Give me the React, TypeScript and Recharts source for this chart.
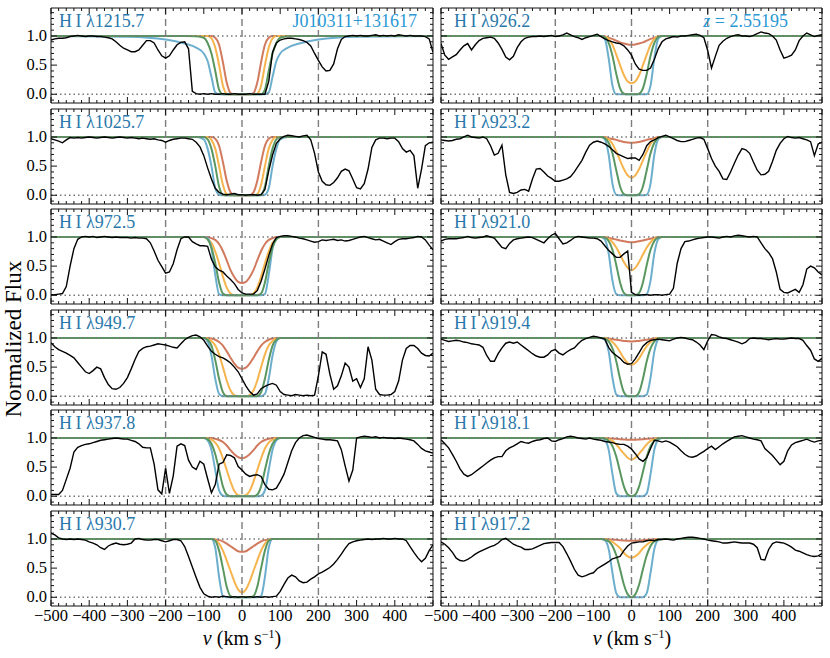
import React from 'react';
import { LineChart, Line, XAxis, YAxis, ReferenceLine } from 'recharts';

const SERIF = '"Liberation Serif", "Times New Roman", Times, "DejaVu Serif", serif';
const LABEL_BLUE = '#2a78ab';
const NAME_BLUE = '#2b98d6';
const C_RED = '#d27a5e';
const C_ORANGE = '#f6b44e';
const C_GREEN = '#5a9760';
const C_BLUE = '#6caecd';
const FRAME = '#111';

// velocity grid of the spectra (km/s)
const VEL = [
  -500, -490, -480, -470, -460, -450, -440, -430, -420, -410,
  -400, -390, -380, -370, -360, -350, -340, -330, -320, -310,
  -300, -290, -280, -270, -260, -250, -240, -230, -220, -210,
  -200, -190, -180, -170, -160, -150, -140, -130, -120, -110,
  -100, -90, -80, -70, -60, -50, -40, -30, -20, -10,
  0, 10, 20, 30, 40, 50, 60, 70, 80, 90,
  100, 110, 120, 130, 140, 150, 160, 170, 180, 190,
  200, 210, 220, 230, 240, 250, 260, 270, 280, 290,
  300, 310, 320, 330, 340, 350, 360, 370, 380, 390,
  400, 410, 420, 430, 440, 450, 460, 470, 480, 490,
  500,
];

// velocity grid of the model profiles
const MODEL_VEL = [-500, -300, -200, -150, -120, -100, -90, -80, -70, -60, -50, -40, -30, -20, -10, 0,
  10, 20, 30, 40, 50, 60, 70, 80, 90, 100, 120, 150, 200, 300, 500];

const X_TICKS = [-500, -480, -460, -440, -420, -400, -380, -360, -340, -320, -300, -280, -260, -240, -220,
  -200, -180, -160, -140, -120, -100, -80, -60, -40, -20, 0, 20, 40, 60, 80, 100, 120, 140, 160, 180,
  200, 220, 240, 260, 280, 300, 320, 340, 360, 380, 400, 420, 440, 460, 480, 500];
const X_LABELS = [-500, -400, -300, -200, -100, 0, 100, 200, 300, 400];
const Y_TICKS = [-0.1, 0, 0.1, 0.2, 0.3, 0.4, 0.5, 0.6, 0.7, 0.8, 0.9, 1.0, 1.1, 1.2, 1.3, 1.4];
const Y_LABELS = [0, 0.5, 1.0];
const V_MARKS = [-200, 0, 200];

// ---- observed spectra ----
const flux1215 = [
  0.93, 0.95, 0.96, 0.96, 0.97, 0.99, 1.00, 1.01, 1.00, 0.99,
  1.00, 1.00, 0.99, 0.99, 0.98, 0.97, 0.95, 0.90, 0.84, 0.79,
  0.76, 0.73, 0.73, 0.76, 0.84, 0.92, 0.92, 0.88, 0.76, 0.66,
  0.62, 0.66, 0.76, 0.85, 0.89, 0.90, 0.78, 0.05, 0.01, 0.00,
  0.01, 0.00, 0.01, 0.00, 0.00, 0.01, 0.00, 0.00, 0.01, 0.00,
  0.00, 0.00, 0.01, 0.00, 0.00, 0.00, 0.00, 0.22, 0.72, 0.88,
  0.93, 0.95, 0.96, 0.96, 0.95, 0.94, 0.92, 0.89, 0.83, 0.70,
  0.58, 0.47, 0.40, 0.41, 0.52, 0.78, 0.94, 0.99, 1.00, 1.01,
  1.00, 1.01, 1.00, 1.00, 1.01, 1.02, 1.00, 1.01, 1.00, 1.01,
  1.00, 1.02, 1.01, 1.00, 1.01, 1.00, 1.00, 1.00, 0.99, 0.95,
  0.72,
];
const flux1025 = [
  0.97, 0.95, 0.93, 0.90, 0.95, 0.99, 0.98, 0.99, 0.98, 0.99,
  1.00, 0.99, 0.98, 0.99, 1.00, 0.99, 0.98, 0.99, 1.00, 0.99,
  0.98, 0.99, 0.98, 0.97, 0.98, 0.97, 0.96, 0.97, 0.95, 0.94,
  0.91, 0.94, 0.96, 0.97, 0.98, 0.98, 0.97, 0.96, 0.91, 0.83,
  0.68, 0.47, 0.28, 0.12, 0.05, 0.02, 0.01, 0.02, 0.03, 0.01,
  0.01, 0.00, 0.01, 0.01, 0.00, 0.01, 0.10, 0.42, 0.69, 0.89,
  0.97, 1.01, 1.03, 1.02, 1.01, 1.00, 1.02, 1.03, 0.95, 0.72,
  0.40, 0.24, 0.18, 0.17, 0.22, 0.30, 0.41, 0.45, 0.42, 0.28,
  0.13, 0.11, 0.20, 0.45, 0.82, 0.95, 0.98, 0.98, 0.97, 0.98,
  0.98, 0.92, 0.80, 0.74, 0.77, 0.68, 0.12, 0.45, 0.85, 0.90,
  0.91,
];
const flux972 = [
  0.01, 0.01, 0.02, 0.03, 0.15, 0.50, 0.80, 0.96, 1.00, 1.01,
  1.00, 1.01, 0.99, 1.00, 1.01, 1.00, 0.99, 1.00, 0.99, 0.99,
  0.99, 0.98, 0.99, 0.98, 0.98, 0.97, 0.90, 0.76, 0.60, 0.49,
  0.38, 0.40, 0.54, 0.78, 0.97, 1.00, 1.00, 0.92, 0.88, 0.85,
  0.85, 0.84, 0.62, 0.49, 0.43, 0.40, 0.33, 0.27, 0.20, 0.10,
  0.04, 0.02, 0.02, 0.02, 0.08, 0.24, 0.45, 0.68, 0.88, 0.99,
  1.01, 1.02, 1.02, 1.01, 1.00, 0.98, 0.97, 0.95, 0.93, 0.91,
  0.92, 0.95, 0.94, 0.95, 0.96, 0.94, 0.95, 0.93, 0.94, 0.96,
  0.98, 1.00, 1.01, 0.99, 0.97, 0.95, 0.96, 0.93, 0.90, 0.87,
  0.92, 0.96, 0.97, 0.97, 0.98, 0.99, 1.01, 1.00, 0.95, 0.86,
  0.78,
];
const flux949 = [
  0.92, 0.85, 0.80, 0.77, 0.74, 0.70, 0.66, 0.58, 0.50, 0.42,
  0.39, 0.44, 0.50, 0.47, 0.32, 0.20, 0.13, 0.12, 0.15, 0.22,
  0.32, 0.47, 0.63, 0.77, 0.82, 0.85, 0.86, 0.88, 0.90, 0.89,
  0.88, 0.86, 0.84, 0.83, 0.90, 0.97, 1.01, 1.04, 1.05, 1.02,
  0.96, 0.86, 0.77, 0.72, 0.68, 0.66, 0.62, 0.57, 0.50, 0.42,
  0.30, 0.18, 0.08, 0.02, 0.04, 0.13, 0.17, 0.20, 0.22, 0.19,
  0.08, 0.03, 0.02, 0.01, 0.03, 0.02, 0.01, 0.02, 0.01, 0.02,
  0.35, 0.76, 0.72, 0.38, 0.12, 0.18, 0.35, 0.57, 0.50, 0.26,
  0.30, 0.15, 0.30, 0.85, 0.62, 0.12, 0.03, 0.02, 0.02, 0.03,
  0.08, 0.26, 0.62, 0.82, 0.87, 0.87, 0.82, 0.74, 0.70, 0.69,
  0.74,
];
const flux937 = [
  0.03, 0.03, 0.03, 0.10, 0.29, 0.48, 0.76, 0.84, 0.87, 0.89,
  0.90, 0.92, 0.94, 0.96, 0.97, 0.98, 0.99, 1.00, 0.99, 0.98,
  0.98, 0.96, 0.94, 0.90, 0.84, 0.83, 0.83, 0.55, 0.11, 0.04,
  0.48, 0.05, 0.35, 0.86, 0.90, 0.87, 0.62, 0.50, 0.46, 0.60,
  0.55, 0.30, 0.06, 0.20, 0.55, 0.58, 0.71, 0.70, 0.66, 0.51,
  0.45, 0.38, 0.34, 0.36, 0.37, 0.34, 0.20, 0.12, 0.11, 0.14,
  0.25, 0.38, 0.58, 0.78, 0.92, 1.00, 1.04, 1.05, 1.03, 1.01,
  0.99, 0.98, 0.97, 0.97, 0.96, 0.95, 0.80, 0.52, 0.26, 0.45,
  1.00, 1.02, 1.03, 1.02, 1.01, 1.02, 1.00, 1.01, 1.00, 1.00,
  0.99, 1.00, 0.99, 0.98, 0.97, 0.95, 0.89, 0.82, 0.78, 0.76,
  0.74,
];
const flux930 = [
  1.10, 1.07, 1.02, 1.00, 0.99, 1.00, 0.99, 1.00, 0.99, 0.98,
  0.95, 0.93, 0.90, 0.85, 0.82, 0.88, 0.91, 0.93, 0.91, 0.90,
  0.91, 0.93, 1.00, 1.01, 0.99, 0.98, 0.98, 0.99, 0.99, 0.97,
  0.95, 0.97, 0.99, 0.99, 0.97, 0.87, 0.70, 0.52, 0.34, 0.17,
  0.06, 0.02, 0.00, 0.01, 0.00, 0.02, 0.01, 0.00, 0.01, 0.00,
  0.01, 0.00, 0.01, 0.00, 0.01, 0.00, 0.01, 0.00, 0.01, 0.02,
  0.10, 0.22, 0.33, 0.38, 0.35, 0.28, 0.25, 0.26, 0.31, 0.35,
  0.40, 0.43, 0.47, 0.51, 0.57, 0.65, 0.74, 0.84, 0.92, 0.95,
  0.97, 0.98, 0.99, 1.00, 0.99, 1.00, 1.00, 1.01, 1.00, 1.00,
  1.01, 1.00, 1.00, 0.97, 0.87, 0.77, 0.68, 0.61, 0.67, 0.80,
  0.90,
];
const flux926 = [
  0.87, 0.67, 0.60, 0.64, 0.68, 0.76, 0.83, 0.87, 0.76, 0.85,
  0.92, 0.96, 0.97, 0.98, 0.96, 0.88, 0.77, 0.64, 0.59, 0.65,
  0.80, 0.90, 0.96, 0.98, 0.99, 0.99, 1.00, 0.99, 1.00, 1.01,
  0.99, 1.00, 1.02, 1.05, 1.02, 0.99, 0.97, 0.94, 0.97, 0.99,
  1.01, 1.03, 0.99, 0.95, 0.92, 0.90, 0.88, 0.87, 0.83, 0.76,
  0.67, 0.52, 0.43, 0.41, 0.41, 0.45, 0.60, 0.78, 0.90, 0.95,
  0.97, 0.99, 0.98, 1.00, 1.00, 1.01, 1.02, 1.03, 1.01, 0.97,
  0.75, 0.45, 0.65, 0.84, 0.91, 0.96, 0.99, 1.01, 1.02, 1.00,
  1.00, 0.99, 1.01, 1.04, 1.07, 1.05, 1.04, 1.00, 0.93, 0.76,
  0.62, 0.64, 0.67, 0.76, 0.92, 1.00, 1.05, 1.02, 0.99, 1.01,
  1.02,
];
const flux923 = [
  0.95, 0.94, 0.93, 0.94, 0.96, 0.97, 1.00, 1.03, 1.00, 0.99,
  0.98, 1.00, 0.97, 0.85, 0.69, 0.72, 0.86, 0.35, 0.05, 0.03,
  0.05, 0.09, 0.10, 0.07, 0.28, 0.45, 0.46, 0.40, 0.33, 0.29,
  0.24, 0.24, 0.26, 0.28, 0.32, 0.40, 0.50, 0.60, 0.74, 0.86,
  0.91, 0.93, 0.91, 0.88, 0.84, 0.78, 0.72, 0.69, 0.66, 0.63,
  0.64, 0.64, 0.60, 0.70, 0.85, 0.92, 0.95, 0.99, 1.01, 1.03,
  1.00, 0.97, 0.94, 0.92, 0.92, 0.94, 0.96, 0.98, 0.99, 0.96,
  0.80, 0.63, 0.50, 0.41, 0.28, 0.27, 0.40, 0.55, 0.69, 0.80,
  0.78, 0.72, 0.57, 0.43, 0.35, 0.36, 0.41, 0.58, 0.77, 0.89,
  0.97, 1.01, 0.99, 0.98, 0.99, 0.97, 0.95, 0.92, 0.68, 0.88,
  0.91,
];
const flux921 = [
  0.93, 0.96, 0.97, 0.97, 0.97, 0.98, 0.99, 1.01, 0.99, 0.98,
  0.99, 1.00, 1.02, 1.00, 0.98, 0.90, 0.82, 0.80, 0.89, 0.95,
  0.97, 0.98, 0.99, 1.00, 0.99, 0.96, 0.93, 0.90, 0.97, 1.03,
  1.06, 0.97, 0.88, 0.90, 0.94, 0.99, 1.01, 1.00, 0.99, 0.98,
  0.98, 0.97, 0.93, 0.85, 0.77, 0.71, 0.65, 0.65, 0.71, 0.76,
  0.05, 0.01, 0.00, 0.01, 0.01, 0.00, 0.01, 0.01, 0.00, 0.01,
  0.02, 0.12, 0.55, 0.80, 0.92, 0.93, 0.95, 0.97, 0.98, 0.99,
  1.00, 1.00, 0.99, 0.98, 1.00, 1.01, 1.00, 1.02, 1.03, 1.02,
  1.01, 1.00, 1.01, 1.00, 0.90, 0.80, 0.73, 0.63, 0.40, 0.10,
  0.05, 0.04, 0.07, 0.10, 0.05, 0.18, 0.45, 0.50, 0.47, 0.40,
  0.35,
];
const flux919 = [
  0.98, 0.96, 0.94, 0.95, 0.96, 0.95, 0.93, 0.92, 0.90, 0.89,
  0.88, 0.84, 0.70, 0.60, 0.60, 0.73, 0.83, 0.91, 0.93, 0.91,
  0.93, 0.88, 0.83, 0.78, 0.73, 0.69, 0.67, 0.67, 0.71, 0.78,
  0.80, 0.74, 0.71, 0.76, 0.80, 0.83, 0.90, 0.96, 0.99, 1.01,
  1.03, 1.02, 1.00, 0.98, 0.84, 0.75, 0.70, 0.65, 0.58, 0.55,
  0.56, 0.64, 0.75, 0.86, 0.92, 0.96, 0.97, 0.98, 0.97, 0.96,
  0.95, 0.98, 1.00, 1.01, 1.00, 0.98, 0.97, 0.93, 0.88, 0.80,
  0.95, 1.06, 1.05, 1.02, 1.00, 0.99, 0.97, 0.95, 0.93, 0.90,
  0.93, 0.99, 1.00, 0.99, 0.99, 0.98, 0.97, 0.98, 0.99, 0.98,
  0.98, 0.99, 1.00, 0.99, 0.99, 0.96, 0.87, 0.79, 0.64, 0.60,
  0.65,
];
const flux918 = [
  0.97, 0.90, 0.83, 0.72, 0.60, 0.47, 0.38, 0.34, 0.37, 0.42,
  0.47, 0.52, 0.57, 0.62, 0.66, 0.68, 0.68, 0.78, 0.83, 0.86,
  0.90, 0.94, 0.92, 0.91, 0.94, 0.96, 0.97, 0.99, 1.00, 0.95,
  0.94, 0.97, 0.99, 1.02, 1.03, 1.02, 1.00, 0.99, 0.98, 1.00,
  0.98, 0.97, 0.96, 0.94, 0.93, 0.92, 0.90, 0.89, 0.89, 0.86,
  0.81, 0.73, 0.64, 0.60, 0.66, 0.82, 0.96, 0.95, 0.93, 0.95,
  0.93, 0.89, 0.85, 0.78, 0.72, 0.68, 0.67, 0.69, 0.73, 0.77,
  0.82, 0.86, 0.80, 0.85, 0.90, 0.94, 0.98, 1.02, 1.03, 1.04,
  1.02, 1.00, 0.98, 0.97, 0.95, 0.82, 0.76, 0.70, 0.62, 0.54,
  0.60, 0.78, 0.88, 0.92, 0.94, 0.96, 0.98, 0.95, 0.93, 0.95,
  0.96,
];
const flux917 = [
  0.95, 0.91, 0.85, 0.77, 0.67, 0.63, 0.62, 0.65, 0.69, 0.74,
  0.78, 0.81, 0.84, 0.87, 0.89, 0.93, 0.99, 1.01, 0.96, 0.91,
  0.88, 0.86, 0.82, 0.82, 0.83, 0.86, 0.89, 0.92, 0.93, 0.94,
  0.94, 0.94, 0.87, 0.75, 0.62, 0.48, 0.38, 0.35, 0.37, 0.40,
  0.42, 0.49, 0.53, 0.57, 0.61, 0.66, 0.68, 0.70, 0.80, 0.88,
  0.93, 0.94, 0.95, 0.95, 0.97, 0.98, 0.97, 0.99, 0.99, 1.00,
  0.99, 0.98, 1.00, 1.01, 1.02, 1.03, 1.03, 1.02, 1.01, 1.00,
  0.98, 0.97, 0.96, 0.95, 0.93, 0.93, 0.94, 0.95, 0.94, 0.93,
  0.93, 0.93, 0.91, 0.85, 0.65, 0.64, 0.82, 0.92, 0.95, 0.94,
  0.93, 0.90, 0.86, 0.81, 0.79, 0.76, 0.73, 0.71, 0.70, 0.71,
  0.75,
];

// ---- model profiles (red, orange, green, blue) on MODEL_VEL ----
const red1215 = [1, 1, 1, 1, 1, 1, 1, 1, 0.97, 0.85, 0.55, 0.2, 0.02, 0, 0, 0, 0, 0, 0.02, 0.2, 0.55, 0.85, 0.97, 1, 1, 1, 1, 1, 1, 1, 1];
const orange1215 = [1, 1, 1, 1, 1, 1, 1, 0.96, 0.8, 0.5, 0.15, 0.01, 0, 0, 0, 0, 0, 0, 0, 0.01, 0.15, 0.5, 0.8, 0.96, 1, 1, 1, 1, 1, 1, 1];
const green1215 = [1, 1, 1, 1, 0.995, 0.97, 0.88, 0.7, 0.4, 0.08, 0, 0, 0, 0, 0, 0, 0, 0, 0, 0, 0, 0.08, 0.4, 0.7, 0.88, 0.97, 0.995, 1, 1, 1, 1];
const blue1215 = [1, 0.985, 0.94, 0.87, 0.8, 0.7, 0.57, 0.3, 0.03, 0, 0, 0, 0, 0, 0, 0, 0, 0, 0, 0, 0, 0, 0.03, 0.3, 0.57, 0.7, 0.8, 0.87, 0.94, 0.985, 1];

const red1025 = [1, 1, 1, 1, 1, 1, 1, 1, 0.97, 0.85, 0.57, 0.25, 0.05, 0, 0, 0, 0, 0, 0.05, 0.25, 0.57, 0.85, 0.97, 1, 1, 1, 1, 1, 1, 1, 1];
const orange1025 = [1, 1, 1, 1, 1, 1, 1, 0.95, 0.8, 0.5, 0.18, 0.02, 0, 0, 0, 0, 0, 0, 0, 0.02, 0.18, 0.5, 0.8, 0.95, 1, 1, 1, 1, 1, 1, 1];
const green1025 = [1, 1, 1, 1, 1, 1, 0.96, 0.8, 0.5, 0.15, 0.01, 0, 0, 0, 0, 0, 0, 0, 0, 0, 0.01, 0.15, 0.5, 0.8, 0.96, 1, 1, 1, 1, 1, 1];
const blue1025 = [1, 1, 1, 1, 1, 0.96, 0.8, 0.5, 0.12, 0.01, 0, 0, 0, 0, 0, 0, 0, 0, 0, 0, 0, 0.01, 0.12, 0.5, 0.8, 0.96, 1, 1, 1, 1, 1];

const red972 = [1, 1, 1, 1, 1, 1, 1, 0.98, 0.95, 0.88, 0.76, 0.6, 0.43, 0.31, 0.23, 0.21, 0.23, 0.31, 0.43, 0.6, 0.76, 0.88, 0.95, 0.98, 1, 1, 1, 1, 1, 1, 1];
const orange972 = [1, 1, 1, 1, 1, 1, 0.97, 0.9, 0.75, 0.55, 0.32, 0.13, 0.03, 0, 0, 0, 0, 0, 0.03, 0.13, 0.32, 0.55, 0.75, 0.9, 0.97, 1, 1, 1, 1, 1, 1];
const green972 = [1, 1, 1, 1, 1, 1, 0.96, 0.82, 0.55, 0.22, 0.03, 0, 0, 0, 0, 0, 0, 0, 0, 0, 0.03, 0.22, 0.55, 0.82, 0.96, 1, 1, 1, 1, 1, 1];
const blue972 = [1, 1, 1, 1, 1, 1, 0.98, 0.8, 0.35, 0.02, 0, 0, 0, 0, 0, 0, 0, 0, 0, 0, 0, 0.02, 0.35, 0.8, 0.98, 1, 1, 1, 1, 1, 1];

const red949 = [1, 1, 1, 1, 1, 1, 1, 0.99, 0.97, 0.93, 0.87, 0.77, 0.66, 0.56, 0.49, 0.47, 0.49, 0.56, 0.66, 0.77, 0.87, 0.93, 0.97, 0.99, 1, 1, 1, 1, 1, 1, 1];
const orange949 = [1, 1, 1, 1, 1, 1, 0.99, 0.95, 0.87, 0.72, 0.5, 0.27, 0.1, 0.02, 0, 0, 0, 0.02, 0.1, 0.27, 0.5, 0.72, 0.87, 0.95, 0.99, 1, 1, 1, 1, 1, 1];
const green949 = [1, 1, 1, 1, 1, 1, 0.97, 0.87, 0.62, 0.3, 0.07, 0, 0, 0, 0, 0, 0, 0, 0, 0, 0.07, 0.3, 0.62, 0.87, 0.97, 1, 1, 1, 1, 1, 1];
const blue949 = [1, 1, 1, 1, 1, 1, 0.94, 0.7, 0.3, 0.04, 0, 0, 0, 0, 0, 0, 0, 0, 0, 0, 0, 0.04, 0.3, 0.7, 0.94, 1, 1, 1, 1, 1, 1];

const red937 = [1, 1, 1, 1, 1, 1, 1, 1, 0.985, 0.965, 0.93, 0.87, 0.79, 0.72, 0.67, 0.65, 0.67, 0.72, 0.79, 0.87, 0.93, 0.965, 0.985, 1, 1, 1, 1, 1, 1, 1, 1];
const orange937 = [1, 1, 1, 1, 1, 1, 1, 0.97, 0.92, 0.82, 0.65, 0.45, 0.25, 0.09, 0.02, 0.01, 0.02, 0.09, 0.25, 0.45, 0.65, 0.82, 0.92, 0.97, 1, 1, 1, 1, 1, 1, 1];
const green937 = [1, 1, 1, 1, 1, 1, 0.98, 0.9, 0.72, 0.45, 0.17, 0.03, 0, 0, 0, 0, 0, 0, 0, 0.03, 0.17, 0.45, 0.72, 0.9, 0.98, 1, 1, 1, 1, 1, 1];
const blue937 = [1, 1, 1, 1, 1, 1, 0.96, 0.8, 0.45, 0.1, 0.01, 0, 0, 0, 0, 0, 0, 0, 0, 0, 0.01, 0.1, 0.45, 0.8, 0.96, 1, 1, 1, 1, 1, 1];

const red930 = [1, 1, 1, 1, 1, 1, 1, 1, 0.99, 0.98, 0.96, 0.92, 0.875, 0.83, 0.79, 0.78, 0.79, 0.83, 0.875, 0.92, 0.96, 0.98, 0.99, 1, 1, 1, 1, 1, 1, 1, 1];
const orange930 = [1, 1, 1, 1, 1, 1, 1, 1, 0.98, 0.92, 0.8, 0.63, 0.45, 0.27, 0.13, 0.08, 0.13, 0.27, 0.45, 0.63, 0.8, 0.92, 0.98, 1, 1, 1, 1, 1, 1, 1, 1];
const green930 = [1, 1, 1, 1, 1, 1, 1, 1, 0.97, 0.8, 0.5, 0.18, 0.02, 0, 0, 0, 0, 0, 0.02, 0.18, 0.5, 0.8, 0.97, 1, 1, 1, 1, 1, 1, 1, 1];
const blue930 = [1, 1, 1, 1, 1, 1, 1, 1, 0.85, 0.35, 0.02, 0, 0, 0, 0, 0, 0, 0, 0, 0, 0.02, 0.35, 0.85, 1, 1, 1, 1, 1, 1, 1, 1];

const red926 = [1, 1, 1, 1, 1, 1, 1, 1, 0.99, 0.97, 0.95, 0.92, 0.89, 0.87, 0.855, 0.85, 0.855, 0.87, 0.89, 0.92, 0.95, 0.97, 0.99, 1, 1, 1, 1, 1, 1, 1, 1];
const orange926 = [1, 1, 1, 1, 1, 1, 1, 1, 0.99, 0.95, 0.85, 0.68, 0.5, 0.33, 0.22, 0.19, 0.22, 0.33, 0.5, 0.68, 0.85, 0.95, 0.99, 1, 1, 1, 1, 1, 1, 1, 1];
const green926 = [1, 1, 1, 1, 1, 1, 1, 1, 0.98, 0.88, 0.66, 0.35, 0.1, 0.01, 0, 0, 0, 0.01, 0.1, 0.35, 0.66, 0.88, 0.98, 1, 1, 1, 1, 1, 1, 1, 1];
const blue926 = [1, 1, 1, 1, 1, 1, 1, 1, 0.95, 0.62, 0.15, 0, 0, 0, 0, 0, 0, 0, 0, 0, 0.15, 0.62, 0.95, 1, 1, 1, 1, 1, 1, 1, 1];

const red923 = [1, 1, 1, 1, 1, 1, 1, 1, 1, 0.98, 0.965, 0.95, 0.93, 0.915, 0.905, 0.9, 0.905, 0.915, 0.93, 0.95, 0.965, 0.98, 1, 1, 1, 1, 1, 1, 1, 1, 1];
const orange923 = [1, 1, 1, 1, 1, 1, 1, 1, 0.99, 0.96, 0.88, 0.75, 0.6, 0.45, 0.34, 0.3, 0.34, 0.45, 0.6, 0.75, 0.88, 0.96, 0.99, 1, 1, 1, 1, 1, 1, 1, 1];
const green923 = [1, 1, 1, 1, 1, 1, 1, 1, 0.98, 0.9, 0.72, 0.43, 0.15, 0.02, 0, 0, 0, 0.02, 0.15, 0.43, 0.72, 0.9, 0.98, 1, 1, 1, 1, 1, 1, 1, 1];
const blue923 = [1, 1, 1, 1, 1, 1, 1, 1, 0.96, 0.7, 0.2, 0.01, 0, 0, 0, 0, 0, 0, 0, 0.01, 0.2, 0.7, 0.96, 1, 1, 1, 1, 1, 1, 1, 1];

const red921 = [1, 1, 1, 1, 1, 1, 1, 1, 1, 0.985, 0.97, 0.955, 0.94, 0.925, 0.915, 0.91, 0.915, 0.925, 0.94, 0.955, 0.97, 0.985, 1, 1, 1, 1, 1, 1, 1, 1, 1];
const orange921 = [1, 1, 1, 1, 1, 1, 1, 1, 0.99, 0.97, 0.91, 0.82, 0.7, 0.57, 0.47, 0.43, 0.47, 0.57, 0.7, 0.82, 0.91, 0.97, 0.99, 1, 1, 1, 1, 1, 1, 1, 1];
const green921 = [1, 1, 1, 1, 1, 1, 1, 1, 0.99, 0.93, 0.78, 0.52, 0.22, 0.04, 0, 0, 0, 0.04, 0.22, 0.52, 0.78, 0.93, 0.99, 1, 1, 1, 1, 1, 1, 1, 1];
const blue921 = [1, 1, 1, 1, 1, 1, 1, 1, 0.96, 0.72, 0.25, 0.02, 0, 0, 0, 0, 0, 0, 0, 0.02, 0.25, 0.72, 0.96, 1, 1, 1, 1, 1, 1, 1, 1];

const red919 = [1, 1, 1, 1, 1, 1, 1, 1, 1, 0.99, 0.98, 0.97, 0.96, 0.95, 0.945, 0.94, 0.945, 0.95, 0.96, 0.97, 0.98, 0.99, 1, 1, 1, 1, 1, 1, 1, 1, 1];
const orange919 = [1, 1, 1, 1, 1, 1, 1, 1, 1, 0.98, 0.93, 0.86, 0.76, 0.65, 0.57, 0.54, 0.57, 0.65, 0.76, 0.86, 0.93, 0.98, 1, 1, 1, 1, 1, 1, 1, 1, 1];
const green919 = [1, 1, 1, 1, 1, 1, 1, 1, 0.99, 0.94, 0.82, 0.6, 0.3, 0.07, 0, 0, 0, 0.07, 0.3, 0.6, 0.82, 0.94, 0.99, 1, 1, 1, 1, 1, 1, 1, 1];
const blue919 = [1, 1, 1, 1, 1, 1, 1, 1, 0.97, 0.77, 0.32, 0.03, 0, 0, 0, 0, 0, 0, 0, 0.03, 0.32, 0.77, 0.97, 1, 1, 1, 1, 1, 1, 1, 1];

const red918 = [1, 1, 1, 1, 1, 1, 1, 1, 1, 0.995, 0.99, 0.985, 0.98, 0.975, 0.97, 0.97, 0.97, 0.975, 0.98, 0.985, 0.99, 0.995, 1, 1, 1, 1, 1, 1, 1, 1, 1];
const orange918 = [1, 1, 1, 1, 1, 1, 1, 1, 1, 0.98, 0.95, 0.89, 0.81, 0.73, 0.66, 0.63, 0.66, 0.73, 0.81, 0.89, 0.95, 0.98, 1, 1, 1, 1, 1, 1, 1, 1, 1];
const green918 = [1, 1, 1, 1, 1, 1, 1, 1, 0.99, 0.95, 0.86, 0.68, 0.42, 0.17, 0.03, 0, 0.03, 0.17, 0.42, 0.68, 0.86, 0.95, 0.99, 1, 1, 1, 1, 1, 1, 1, 1];
const blue918 = [1, 1, 1, 1, 1, 1, 1, 1, 0.97, 0.8, 0.38, 0.05, 0, 0, 0, 0, 0, 0, 0, 0.05, 0.38, 0.8, 0.97, 1, 1, 1, 1, 1, 1, 1, 1];

const red917 = [1, 1, 1, 1, 1, 1, 1, 1, 1, 0.995, 0.99, 0.985, 0.98, 0.975, 0.97, 0.97, 0.97, 0.975, 0.98, 0.985, 0.99, 0.995, 1, 1, 1, 1, 1, 1, 1, 1, 1];
const orange917 = [1, 1, 1, 1, 1, 1, 1, 1, 1, 0.98, 0.95, 0.9, 0.84, 0.76, 0.7, 0.68, 0.7, 0.76, 0.84, 0.9, 0.95, 0.98, 1, 1, 1, 1, 1, 1, 1, 1, 1];
const green917 = [1, 1, 1, 1, 1, 1, 1, 1, 0.99, 0.96, 0.88, 0.72, 0.48, 0.22, 0.05, 0, 0.05, 0.22, 0.48, 0.72, 0.88, 0.96, 0.99, 1, 1, 1, 1, 1, 1, 1, 1];
const blue917 = [1, 1, 1, 1, 1, 1, 1, 1, 0.98, 0.83, 0.42, 0.07, 0, 0, 0, 0, 0, 0, 0, 0.07, 0.42, 0.83, 0.98, 1, 1, 1, 1, 1, 1, 1, 1];

const PANELS = [
  { col: 0, row: 0, line: '1215.7', flux: flux1215, models: [red1215, orange1215, green1215, blue1215] },
  { col: 0, row: 1, line: '1025.7', flux: flux1025, models: [red1025, orange1025, green1025, blue1025] },
  { col: 0, row: 2, line: '972.5', flux: flux972, models: [red972, orange972, green972, blue972] },
  { col: 0, row: 3, line: '949.7', flux: flux949, models: [red949, orange949, green949, blue949] },
  { col: 0, row: 4, line: '937.8', flux: flux937, models: [red937, orange937, green937, blue937] },
  { col: 0, row: 5, line: '930.7', flux: flux930, models: [red930, orange930, green930, blue930] },
  { col: 1, row: 0, line: '926.2', flux: flux926, models: [red926, orange926, green926, blue926] },
  { col: 1, row: 1, line: '923.2', flux: flux923, models: [red923, orange923, green923, blue923] },
  { col: 1, row: 2, line: '921.0', flux: flux921, models: [red921, orange921, green921, blue921] },
  { col: 1, row: 3, line: '919.4', flux: flux919, models: [red919, orange919, green919, blue919] },
  { col: 1, row: 4, line: '918.1', flux: flux918, models: [red918, orange918, green918, blue918] },
  { col: 1, row: 5, line: '917.2', flux: flux917, models: [red917, orange917, green917, blue917] },
];
const MODEL_COLORS = [C_RED, C_ORANGE, C_GREEN, C_BLUE];
const MODEL_ORDER = [0, 1, 3, 2];

// layout
const COL_LEFT = [51, 441];
const COL_WIDTH = [382, 381];
const ROW_TOP = [8, 109, 209, 310, 410, 511];
const PLOT_H = 95;

const txt = (size: number, extra: React.CSSProperties = {}): React.CSSProperties => ({
  fontFamily: SERIF,
  fontSize: size,
  ...extra,
});

const fmtX = (v: number) => (v < 0 ? '\u2212' + Math.abs(v) : String(v));
const isMajorY = (v: number) => Y_LABELS.some((m) => Math.abs(m - v) < 1e-6);

const xTick = (side: 'bottom' | 'top', showLabel: boolean) => (props: any) => {
  const { x, y, payload } = props;
  const v = payload.value;
  const major = v % 100 === 0;
  const len = major ? 6 : 3;
  const dir = side === 'bottom' ? -1 : 1;
  return (
    <g>
      <line x1={x} y1={y} x2={x} y2={y + dir * len} stroke={FRAME} strokeWidth={1} />
      {showLabel && X_LABELS.includes(v) && (
        <text x={x} y={y + 15} textAnchor="middle" style={txt(16.5)} fill="#000">
          {fmtX(v)}
        </text>
      )}
    </g>
  );
};

const yTick = (side: 'left' | 'right', showLabel: boolean) => (props: any) => {
  const { x, y, payload } = props;
  const v = payload.value;
  const major = isMajorY(v);
  const len = major ? 6 : 3;
  const dir = side === 'left' ? 1 : -1;
  return (
    <g>
      <line x1={x} y1={y} x2={x + dir * len} y2={y} stroke={FRAME} strokeWidth={1} />
      {showLabel && major && (
        <text x={x - 4} y={y + 5} textAnchor="end" style={txt(16.5)} fill="#000">
          {v.toFixed(1)}
        </text>
      )}
    </g>
  );
};

function Panel({ p }: { p: (typeof PANELS)[number] }) {
  const bottom = p.row === 5;
  const ml = p.col === 0 ? 45 : 20;
  const mr = 15;
  const mt = 3;
  const mb = bottom ? 24 : 3;
  const spec = VEL.map((v, i) => ({ v, f: p.flux[i] }));
  const models = p.models.map((m) => MODEL_VEL.map((v, i) => ({ v, f: m[i] })));
  const axisLine = { stroke: FRAME, strokeWidth: 1 };
  // each axis takes 1px; margins are reduced by 1 so the plot box stays in place
  return (
    <div style={{ position: 'absolute', left: COL_LEFT[p.col] - ml, top: ROW_TOP[p.row] - mt }}>
      <LineChart
        width={ml + COL_WIDTH[p.col] + mr}
        height={mt + PLOT_H + mb}
        margin={{ top: mt - 1, right: mr - 1, bottom: mb - 1, left: ml - 1 }}
      >
        <XAxis xAxisId="b" dataKey="v" type="number" domain={[-500, 500]} allowDataOverflow ticks={X_TICKS}
          interval={0} height={1} tickSize={0} tickMargin={0} tickLine={false} axisLine={axisLine}
          tick={xTick('bottom', bottom)} orientation="bottom" />
        <XAxis xAxisId="t" dataKey="v" type="number" domain={[-500, 500]} allowDataOverflow ticks={X_TICKS}
          interval={0} height={1} tickSize={0} tickMargin={0} tickLine={false} axisLine={axisLine}
          tick={xTick('top', false)} orientation="top" />
        <YAxis yAxisId="l" type="number" domain={[-0.15, 1.48]} allowDataOverflow ticks={Y_TICKS}
          interval={0} width={1} tickSize={0} tickMargin={0} tickLine={false} axisLine={axisLine}
          tick={yTick('left', p.col === 0)} orientation="left" />
        <YAxis yAxisId="r" type="number" domain={[-0.15, 1.48]} allowDataOverflow ticks={Y_TICKS}
          interval={0} width={1} tickSize={0} tickMargin={0} tickLine={false} axisLine={axisLine}
          tick={yTick('right', false)} orientation="right" />
        {MODEL_ORDER.map((k) => (
          <Line key={'m' + k} data={models[k]} dataKey="f" type="monotone" xAxisId="b" yAxisId="l"
            stroke={MODEL_COLORS[k]} strokeWidth={2} dot={false} activeDot={false} isAnimationActive={false} />
        ))}
        {V_MARKS.map((v) => (
          <ReferenceLine key={'v' + v} x={v} xAxisId="b" yAxisId="l" stroke="#7d7d7d" strokeWidth={1.4}
            strokeDasharray="7 4" />
        ))}
        <ReferenceLine y={0} xAxisId="b" yAxisId="l" stroke="#777" strokeWidth={1.4} strokeDasharray="1.5 3" />
        <ReferenceLine y={1} xAxisId="b" yAxisId="l" stroke="#777" strokeWidth={1.4} strokeDasharray="1.5 3" />
        <Line data={spec} dataKey="f" type="linear" xAxisId="b" yAxisId="l" stroke="#000" strokeWidth={1.4}
          dot={false} activeDot={false} isAnimationActive={false} />
      </LineChart>
    </div>
  );
}

export default function App() {
  return (
    <div style={{ position: 'absolute', left: 0, top: 0, width: 830, height: 658, background: '#fff' }}>
      {PANELS.map((p) => (
        <Panel key={p.line} p={p} />
      ))}
      <svg width={830} height={658} style={{ position: 'absolute', left: 0, top: 0, pointerEvents: 'none' }}>
        {PANELS.map((p) => (
          <text key={'t' + p.line} x={p.col === 0 ? 59 : 454} y={ROW_TOP[p.row] + 19} style={txt(18)}
            fill={LABEL_BLUE}>
            {'H\u2009I \u03bb' + p.line}
          </text>
        ))}
        <text x={417} y={27} textAnchor="end" style={txt(18)} fill={NAME_BLUE}>
          J010311+131617
        </text>
        <text x={788} y={27} textAnchor="end" style={txt(18)} fill={NAME_BLUE}>
          <tspan style={{ fontStyle: 'italic' }}>z</tspan> = 2.55195
        </text>
        <text transform="translate(21, 339) rotate(-90)" textAnchor="middle" style={txt(23)} fill="#000">
          Normalized Flux
        </text>
        {[242, 632].map((cx) => (
          <text key={'xl' + cx} x={cx} y={645} textAnchor="middle" style={txt(20)} fill="#000">
            <tspan style={{ fontStyle: 'italic' }}>v</tspan> (km s<tspan dy={-7} style={{ fontSize: 12 }}>{'\u22121'}</tspan>
            <tspan dy={7}>)</tspan>
          </text>
        ))}
      </svg>
    </div>
  );
}
